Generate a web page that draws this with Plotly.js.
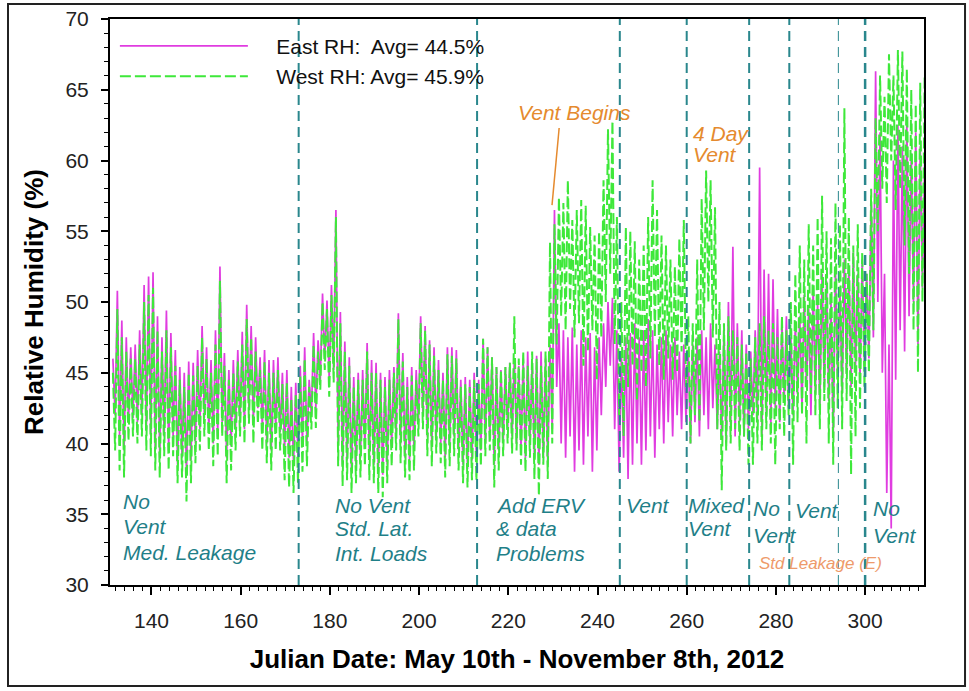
<!DOCTYPE html>
<html>
<head>
<meta charset="utf-8">
<script src="https://cdn.plot.ly/plotly-3.0.1.min.js"></script>
<style>html,body{margin:0;padding:0;background:#fff;}#chart{width:969px;height:691px;}</style>
</head>
<body>
<div id="chart"></div>
<script>
// Julian days covered by the record (one daily high and one daily low per series)
const firstDay = 131;

// East RH daily highs / lows (%)
const eastMax = [
 46.0,50.8,48.7,47.5,46.8,47.0,48.0,51.2,51.8,52.1,
 49.0,47.5,49.4,47.8,46.6,45.4,45.0,45.8,45.7,46.6,
 48.3,46.8,45.9,48.0,52.5,46.4,45.2,45.9,46.6,47.9,
 49.8,48.3,47.5,46.1,46.6,45.9,45.9,46.1,45.0,45.2,
 44.0,44.3,45.5,46.8,44.5,47.8,47.3,50.6,50.1,51.2,
 56.5,49.3,47.2,46.1,44.7,45.0,45.2,47.1,45.9,45.7,
 45.0,44.7,45.2,45.4,49.2,46.4,44.7,45.4,45.2,49.0,
 48.3,47.3,46.8,45.9,45.0,46.8,46.8,46.6,44.5,44.7,
 44.5,45.0,44.5,47.4,46.8,46.1,45.4,45.2,45.4,45.7,
 46.0,45.5,46.0,46.5,45.8,46.2,46.5,46.0,47.0,56.5,
 48.5,48.0,47.5,48.2,47.0,48.0,47.5,47.8,46.8,47.5,
 48.5,50.0,50.3,48.0,46.5,47.5,47.8,48.5,47.5,48.0,
 48.8,48.0,47.0,47.5,48.0,47.0,47.5,46.5,47.0,46.5,
 47.0,47.5,48.0,47.5,48.5,47.0,46.5,48.0,50.0,53.9,
 48.5,48.0,47.0,46.5,48.0,59.5,52.3,52.0,51.6,49.5,
 48.5,49.0,47.5,48.5,49.0,50.5,49.5,51.0,50.0,52.0,
 51.5,50.0,52.5,51.0,53.0,52.5,53.5,52.0,53.0,52.0,
 57.0,66.3,62.0,52.0,47.0,60.0,62.5,61.0,63.0,60.5,
 62.0,61.0,60.0
];
const eastMin = [
 42.0,40.5,39.5,41.5,41.8,41.5,42.0,41.0,40.5,39.5,
 39.0,40.5,39.5,40.5,38.5,39.0,37.8,38.8,40.0,41.0,
 41.8,41.0,40.0,40.5,41.5,39.0,39.8,41.0,41.5,41.0,
 42.5,41.5,42.5,41.0,40.0,39.5,41.0,40.8,39.5,39.0,
 38.5,39.0,40.0,40.0,42.0,42.5,44.5,46.0,44.5,45.2,
 40.0,38.5,38.8,38.0,38.5,39.0,39.8,39.0,38.5,38.0,
 37.8,38.5,39.8,40.5,40.0,39.0,38.8,39.5,41.5,42.0,
 40.5,39.8,40.5,40.0,39.0,39.8,40.5,39.5,38.5,38.2,
 38.8,38.8,39.5,40.0,40.5,38.5,39.5,40.0,41.0,40.5,
 40.0,39.5,39.0,40.0,39.0,38.5,39.0,38.5,41.0,44.0,
 40.0,39.0,40.5,38.0,39.5,38.5,40.5,38.0,39.5,42.0,
 44.0,45.5,41.0,38.0,39.0,37.5,38.5,40.0,38.5,39.5,
 40.5,39.0,41.0,40.0,41.5,40.5,42.0,41.0,41.5,40.0,
 41.5,40.5,42.0,41.0,42.5,41.0,40.5,40.0,41.0,40.5,
 41.5,40.5,41.0,42.0,41.5,40.5,42.0,41.0,42.5,41.5,
 43.0,42.5,42.0,43.5,42.5,44.0,42.0,43.5,42.5,44.0,
 43.0,40.5,44.5,43.5,45.0,44.0,45.5,44.5,45.5,46.0,
 47.5,50.0,45.0,36.5,34.0,44.5,48.0,46.5,49.0,50.0,
 47.0,51.0,49.5
];

// West RH daily highs / lows (%)
const westMax = [
 45.0,49.5,47.5,46.5,46.0,46.0,47.0,50.0,50.5,51.0,
 48.0,46.5,48.0,46.8,45.5,44.5,44.0,45.0,44.8,45.5,
 47.5,46.0,45.0,47.0,51.5,45.5,44.5,45.0,45.8,47.0,
 48.8,47.5,46.5,45.2,45.8,45.0,45.0,45.2,44.2,44.3,
 43.2,43.5,44.8,46.0,44.0,47.0,46.5,50.0,49.5,50.5,
 56.0,48.5,46.5,45.5,44.0,44.5,44.5,46.5,45.0,45.0,
 44.5,44.0,44.5,45.0,48.8,45.8,44.0,44.8,44.5,48.5,
 48.0,47.0,46.2,45.2,44.5,46.3,46.2,46.0,44.0,44.2,
 44.0,44.5,44.2,47.4,46.8,46.1,45.4,45.2,45.4,45.7,
 49.0,46.0,46.5,45.5,46.5,46.0,45.5,46.5,54.2,55.5,
 57.4,57.0,58.6,55.8,56.5,57.2,56.8,55.3,54.7,55.0,
 58.6,62.2,62.8,56.0,50.0,55.3,55.0,54.3,53.0,54.0,
 56.0,58.6,56.5,54.7,54.0,53.0,52.5,54.5,55.8,49.0,
 48.5,53.0,57.3,59.3,58.6,56.7,50.0,48.5,49.0,48.0,
 47.5,47.0,46.5,46.0,47.5,48.5,49.0,48.0,48.5,47.5,
 49.0,48.0,50.0,52.0,54.0,53.0,55.5,54.0,56.0,57.5,
 55.0,54.5,57.0,55.5,63.7,56.0,54.0,55.5,53.5,52.0,
 58.0,63.0,66.0,64.5,67.5,66.0,67.8,67.7,66.5,65.0,
 64.0,65.5,66.0
];
const westMin = [
 39.5,38.1,37.6,40.2,40.5,40.0,40.5,39.5,39.1,38.1,
 37.6,39.1,38.1,39.1,37.2,37.6,35.9,37.2,38.6,39.5,
 40.5,39.5,38.4,39.1,40.5,37.2,38.1,39.5,40.5,40.0,
 41.4,40.0,41.4,39.5,38.6,38.1,39.5,39.5,37.4,36.9,
 36.5,37.2,38.0,38.4,41.0,41.1,43.8,45.2,43.3,44.3,
 38.4,37.0,37.4,36.5,37.2,37.6,38.4,37.4,37.2,36.5,
 36.2,37.2,38.4,39.5,38.6,37.6,37.4,38.1,40.5,41.0,
 39.1,38.4,39.3,38.6,37.6,38.4,39.1,38.1,37.2,36.9,
 37.4,37.4,38.4,39.1,39.5,36.9,38.1,39.1,40.0,39.3,
 39.5,38.5,38.0,39.0,37.5,36.3,38.5,37.5,40.0,47.0,
 49.0,48.0,49.5,47.5,48.5,45.5,46.5,48.0,44.5,47.5,
 50.0,52.0,47.0,42.0,40.5,44.0,45.5,43.0,45.0,44.0,
 46.0,47.5,45.5,44.5,46.0,44.5,45.0,46.5,44.0,40.0,
 42.0,41.5,48.0,50.0,47.5,41.0,36.7,39.5,40.0,41.0,
 39.5,40.5,38.5,38.5,40.0,39.5,41.0,40.0,38.5,41.0,
 40.5,42.0,38.5,41.5,42.0,40.0,43.5,42.0,41.0,43.0,
 40.0,38.5,42.5,41.0,43.0,37.8,40.5,42.5,44.0,45.0,
 48.0,55.0,58.0,57.0,60.0,56.5,58.0,54.0,52.0,48.0,
 45.0,50.0,55.0
];

// Legend labels
const eastName = 'East RH:  Avg= 44.5%';
const westName = 'West RH: Avg= 45.9%';

// Phase boundaries (Julian day)
const phaseDays = [173, 213, 245, 260, 274, 283, 294, 300];
const phaseWidths = [2, 2, 2, 2, 2, 2, 1, 2.5];

// Phase labels: text lines, left day, line values
const phaseLabels = [
  {day: 133.2, lines: ['No', 'Vent', 'Med. Leakage'], ys: [35.87, 34.10, 32.33]},
  {day: 180.6, lines: ['No Vent', 'Std. Lat.', 'Int. Loads'], ys: [35.65, 33.96, 32.26]},
  {day: 216.8, lines: ['Add ERV', '&amp; data', 'Problems'], ys: [35.65, 33.96, 32.26]},
  {day: 245.9, lines: ['Vent'], ys: [35.65]},
  {day: 259.8, lines: ['Mixed', 'Vent'], ys: [35.65, 33.96]},
  {day: 274.3, lines: ['No', 'Vent'], ys: [35.44, 33.53]},
  {day: 283.9, lines: ['Vent'], ys: [35.30]},
  {day: 301.4, lines: ['No', 'Vent'], ys: [35.44, 33.53]}
];
const noteLabels = [
  {day: 221.75, y: 63.36, text: 'Vent Begins', size: 21, color: '#e58a2e'},
  {day: 260.9, y: 61.94, text: '4 Day', size: 21, color: '#e58a2e'},
  {day: 260.9, y: 60.39, text: 'Vent', size: 21, color: '#e58a2e'},
  {day: 275.7, y: 31.55, text: 'Std Leakage (E)', size: 17, color: '#ee9a6a'}
];
const pointer = {x0: 231.4, y0: 62.3, x1: 229.8, y1: 56.85};

function zigzag(maxArr, minArr) {
  const x = [], y = [];
  for (let i = 0; i < maxArr.length; i++) {
    const d = firstDay + i;
    x.push(d + 0.35, d + 0.85);
    y.push(maxArr[i], minArr[i]);
  }
  return {x, y};
}
const east = zigzag(eastMax, eastMin);
const west = zigzag(westMax, westMin);

const FONT = 'Liberation Sans, Arial, Helvetica, sans-serif';
const TEAL = '#1f8088';
const GAP = '&nbsp;&nbsp;&nbsp;&nbsp;';

const traces = [
  {type: 'scatter', mode: 'lines', name: GAP + eastName, x: east.x, y: east.y,
   line: {color: '#e03ce0', width: 1.7}},
  {type: 'scatter', mode: 'lines', name: GAP + westName, x: west.x, y: west.y,
   line: {color: '#3ee83a', width: 2, dash: '11px,4px'}}
];

const shapes = phaseDays.map((d, i) => ({
  type: 'line', xref: 'x', yref: 'paper', x0: d, x1: d, y0: 0, y1: 1,
  line: {color: '#2a878d', width: phaseWidths[i], dash: '10px,6px'}
}));
shapes.push({type: 'line', xref: 'x', yref: 'y', x0: pointer.x0, y0: pointer.y0,
  x1: pointer.x1, y1: pointer.y1, line: {color: '#e58a2e', width: 1.5}});
shapes.push({type: 'rect', xref: 'paper', yref: 'paper', x0: -0.1253, x1: 1.0504,
  y0: -0.1784, y1: 1.0265, line: {color: '#222', width: 2}, fillcolor: 'rgba(0,0,0,0)', layer: 'below'});

const annotations = [];
phaseLabels.forEach(p => {
  p.lines.forEach((t, k) => annotations.push({
    xref: 'x', yref: 'y', x: p.day, y: p.ys[k], text: '<i>' + t + '</i>',
    showarrow: false, xanchor: 'left', yanchor: 'middle',
    font: {family: FONT, size: 21, color: TEAL}
  }));
});
noteLabels.forEach(n => annotations.push({
  xref: 'x', yref: 'y', x: n.day, y: n.y, text: '<i>' + n.text + '</i>',
  showarrow: false, xanchor: 'left', yanchor: 'middle',
  font: {family: FONT, size: n.size, color: n.color}
}));

const layout = {
  width: 969, height: 691,
  margin: {l: 110, r: 45, t: 19, b: 106},
  paper_bgcolor: '#fff', plot_bgcolor: '#fff',
  font: {family: FONT, color: '#111'},
  showlegend: true,
  legend: {x: 0.006, y: 0.988, xanchor: 'left', yanchor: 'top', bgcolor: 'rgba(0,0,0,0)',
    font: {family: FONT, size: 21, color: '#111'}, itemwidth: 128, tracegroupgap: 0},
  xaxis: {
    range: [130.7, 313.2], tick0: 0, dtick: 20, ticks: 'outside', ticklen: 8, tickwidth: 1.5,
    tickcolor: '#000', showline: true, linecolor: '#000', linewidth: 2, mirror: true,
    showgrid: false, zeroline: false, ticklabelstandoff: 8,
    tickfont: {family: FONT, size: 21, color: '#222'},
    minor: {dtick: 2, ticks: 'outside', ticklen: 4, tickcolor: '#000', tickwidth: 1, showgrid: false},
    title: {text: 'Julian Date: May 10th - November 8th, 2012', standoff: 19,
      font: {family: FONT, size: 26, weight: 'bold', color: '#000'}}
  },
  yaxis: {
    range: [30, 70], tick0: 0, dtick: 5, ticks: 'outside', ticklen: 7, tickwidth: 1.5,
    tickcolor: '#000', showline: true, linecolor: '#000', linewidth: 2, mirror: true,
    showgrid: false, zeroline: false, ticklabelstandoff: 8,
    tickfont: {family: FONT, size: 21, color: '#222'},
    minor: {dtick: 1, ticks: 'outside', ticklen: 4, tickcolor: '#000', tickwidth: 1, showgrid: false},
    title: {text: 'Relative Humidity (%)', standoff: 14,
      font: {family: FONT, size: 26, weight: 'bold', color: '#000'}}
  },
  shapes: shapes,
  annotations: annotations
};

Plotly.newPlot('chart', traces, layout, {displayModeBar: false, responsive: false});
</script>
</body>
</html>
